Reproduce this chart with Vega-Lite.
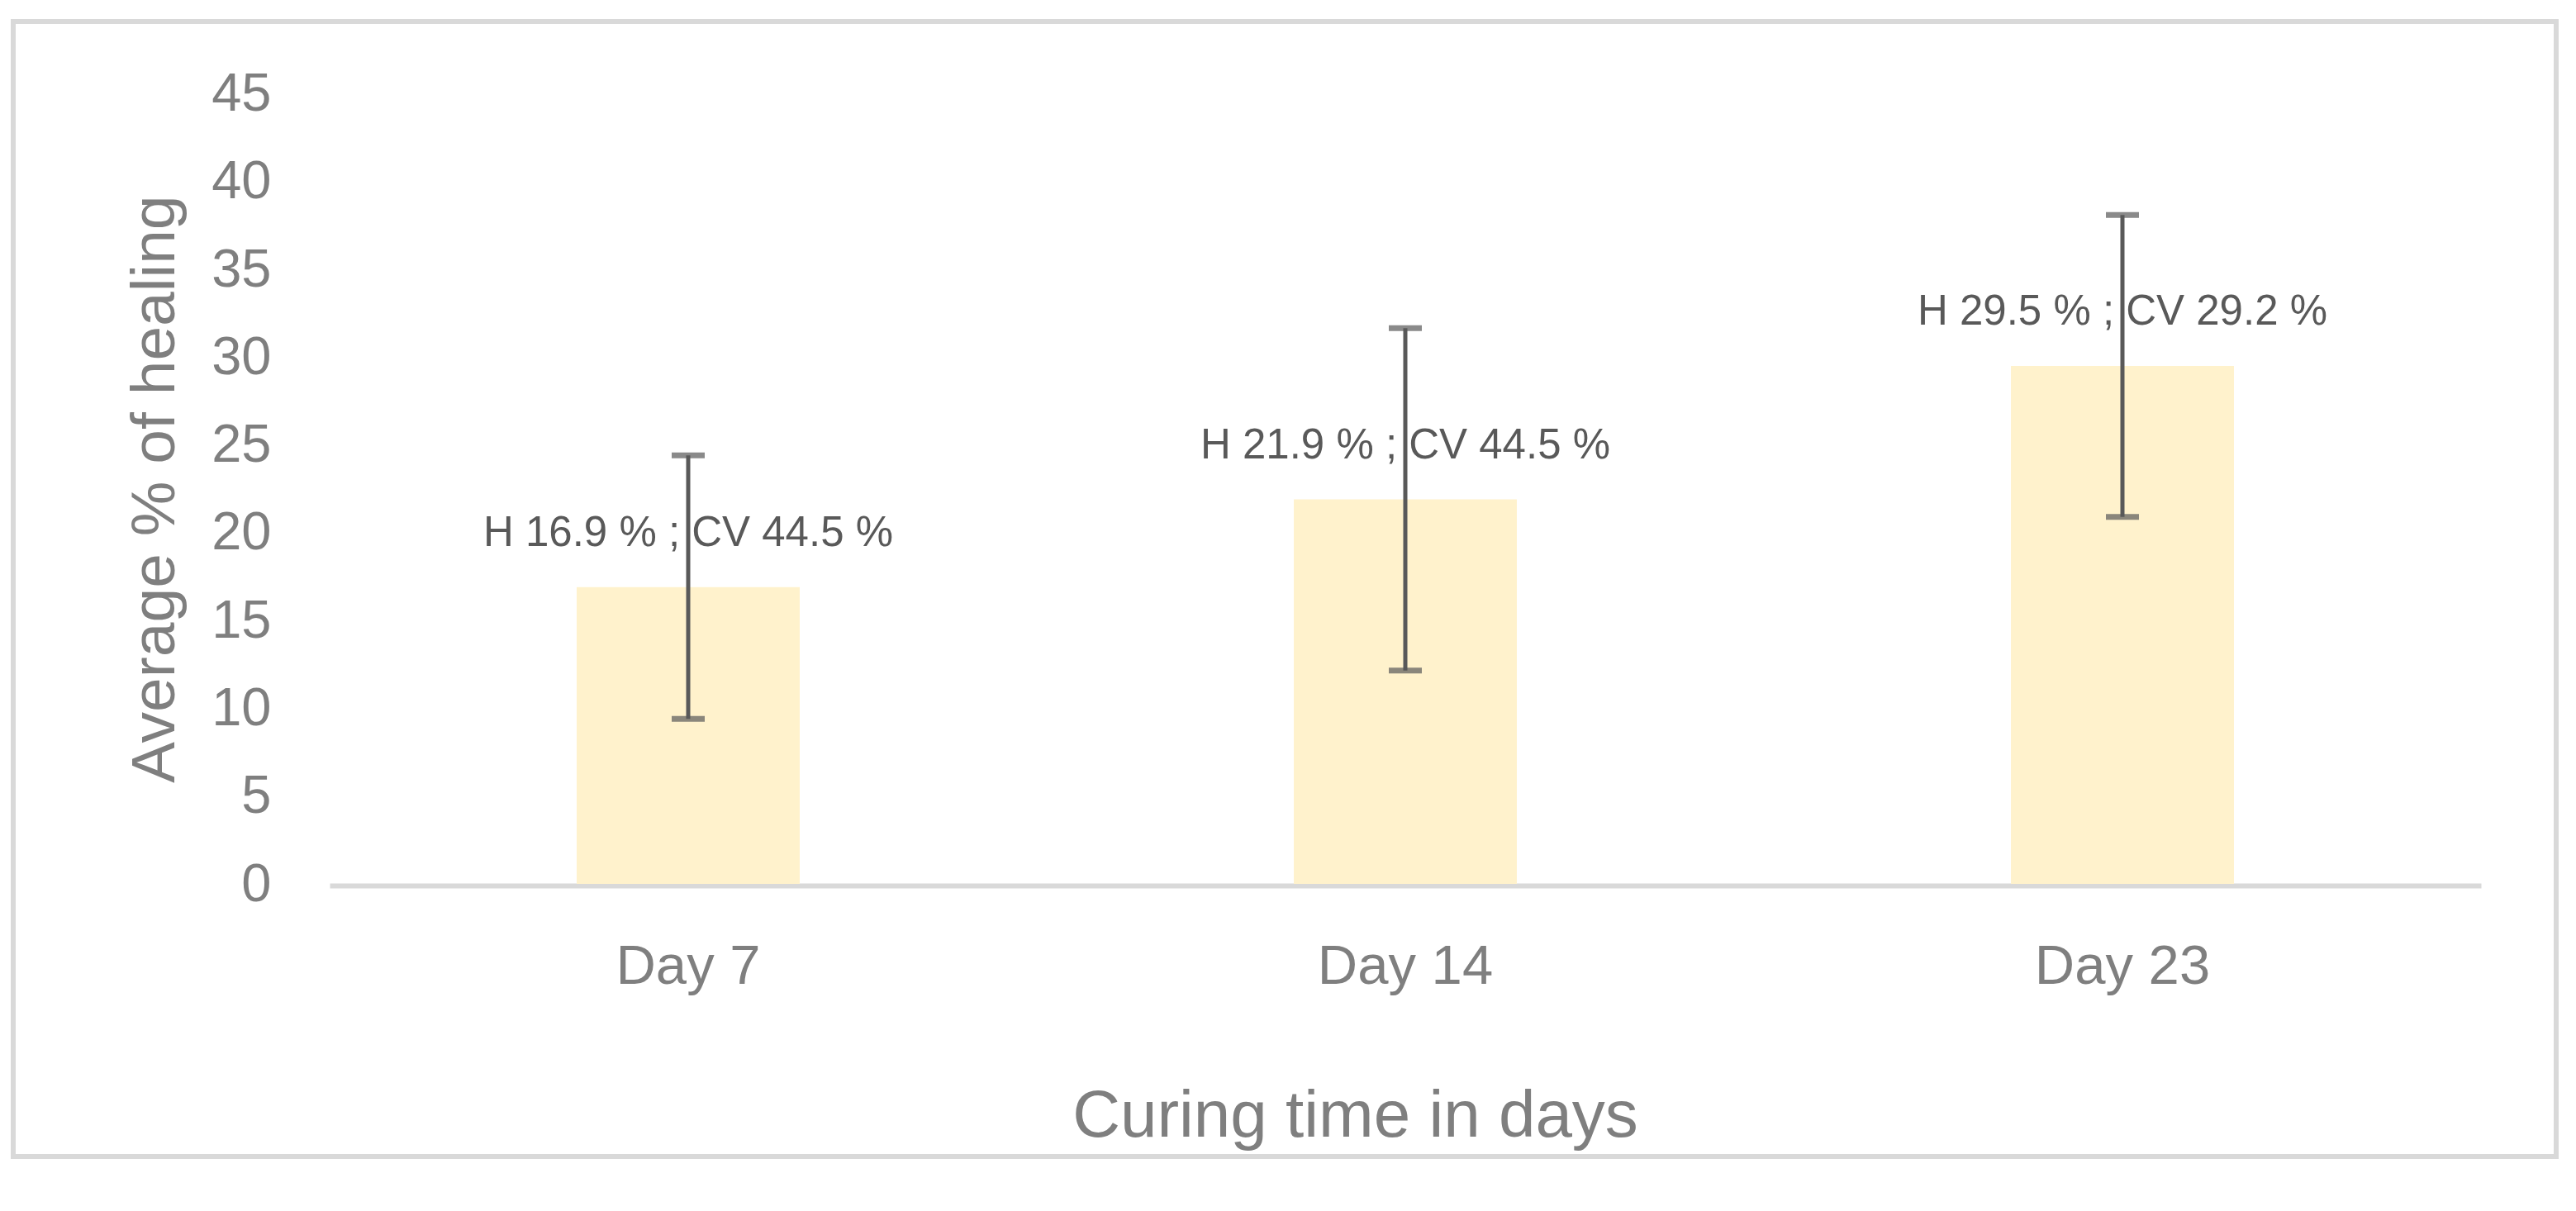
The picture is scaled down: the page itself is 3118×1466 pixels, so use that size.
{
  "$schema": "https://vega.github.io/schema/vega-lite/v6.json",
  "autosize": {"type": "none"},
  "padding": {"left": 16, "top": 26, "right": 24, "bottom": 66},
  "width": 3078,
  "height": 1374,
  "background": "white",
  "config": {
    "view": {"stroke": "#D9D9D9", "strokeWidth": 6},
    "font": "Liberation Sans"
  },
  "data": {
    "values": [
      {"day": "Day 7", "h": 16.9, "lo": 9.4, "hi": 24.4, "label": "H 16.9 % ; CV 44.5 %"},
      {"day": "Day 14", "h": 21.9, "lo": 12.15, "hi": 31.65, "label": "H 21.9 % ; CV 44.5 %"},
      {"day": "Day 23", "h": 29.5, "lo": 20.9, "hi": 38.1, "label": "H 29.5 % ; CV 29.2 %"}
    ]
  },
  "encoding": {
    "x": {
      "field": "day",
      "type": "nominal",
      "sort": ["Day 7", "Day 14", "Day 23"],
      "scale": {"range": [383, 2987], "paddingInner": 0.689, "paddingOuter": 0.3445},
      "axis": {
        "title": "Curing time in days",
        "offset": -328,
        "labelAngle": 0,
        "labelLimit": 0,
        "labelFont": "Liberation Sans",
        "labelFontSize": 67,
        "labelColor": "#7F7F7F",
        "labelPadding": 65,
        "ticks": false,
        "tickSize": 0,
        "domainColor": "#D9D9D9",
        "domainWidth": 6,
        "titleFont": "Liberation Sans",
        "titleFontSize": 80,
        "titleFontWeight": "normal",
        "titleColor": "#7F7F7F",
        "titleBaseline": "alphabetic",
        "titleLimit": 0,
        "titleX": 1624,
        "titleY": 303
      }
    }
  },
  "layer": [
    {
      "mark": {"type": "bar", "color": "#FFF2CC"},
      "encoding": {
        "y": {
          "field": "h",
          "type": "quantitative",
          "scale": {"domain": [0, 45], "range": [1044, 87.5], "nice": false},
          "axis": {
            "title": "Average % of healing",
            "offset": -382,
            "values": [0, 5, 10, 15, 20, 25, 30, 35, 40, 45],
            "grid": false,
            "domain": false,
            "ticks": false,
            "tickSize": 0,
            "labelPadding": 70,
            "labelFont": "Liberation Sans",
            "labelFontSize": 65,
            "labelColor": "#7F7F7F",
            "titleFont": "Liberation Sans",
            "titleFontSize": 75,
            "titleFontWeight": "normal",
            "titleColor": "#7F7F7F",
            "titleBaseline": "alphabetic",
            "titleAngle": -90,
            "titleLimit": 0,
            "titleX": -188
          }
        }
      }
    },
    {
      "mark": {"type": "rule", "color": "#595959", "strokeWidth": 5},
      "encoding": {
        "y": {"field": "lo", "type": "quantitative"},
        "y2": {"field": "hi"}
      }
    },
    {
      "mark": {"type": "tick", "color": "#595959", "size": 40, "thickness": 7, "orient": "horizontal"},
      "encoding": {
        "y": {"field": "hi", "type": "quantitative"}
      }
    },
    {
      "mark": {"type": "tick", "color": "#595959", "size": 40, "thickness": 7, "orient": "horizontal"},
      "encoding": {
        "y": {"field": "lo", "type": "quantitative"}
      }
    },
    {
      "mark": {"type": "text", "color": "#595959", "font": "Liberation Sans", "fontSize": 51, "baseline": "alphabetic", "align": "center", "dy": -50},
      "encoding": {
        "y": {"field": "h", "type": "quantitative"},
        "text": {"field": "label"}
      }
    }
  ]
}
